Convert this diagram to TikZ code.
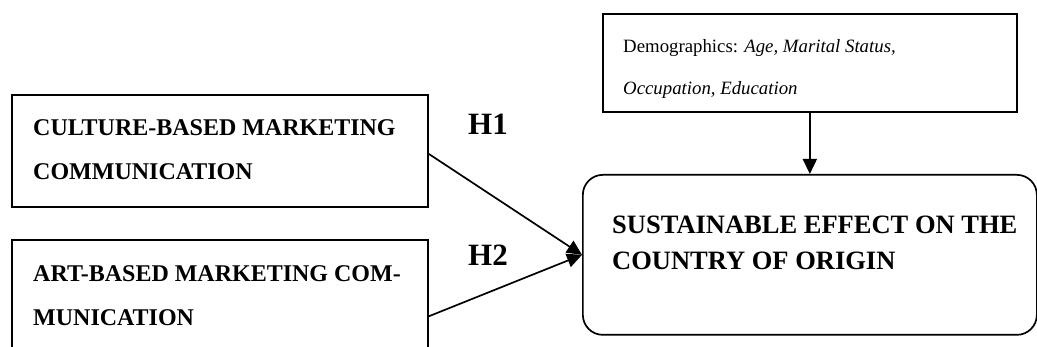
\documentclass[tikz,border=0pt]{standalone}
\usepackage{fontspec}
\setmainfont{Liberation Serif}
\usetikzlibrary{arrows.meta}
\begin{document}
\begin{tikzpicture}[x=1pt,y=-1pt,
  box/.style={draw, line width=1.7pt, anchor=north west, inner sep=0pt},
  rbox/.style={box, rounded corners=20pt},
  bigtxt/.style={anchor=north west, inner sep=0pt, align=left, font=\bfseries\fontsize{24}{44}\selectfont},
  demotxt/.style={anchor=north west, inner sep=0pt, align=left, font=\fontsize{18.8}{42}\selectfont},
  hyp/.style={font=\bfseries\fontsize{31}{36}\selectfont, inner sep=0pt},
  link/.style={line width=1.7pt, -{Triangle[length=15pt,width=14pt]}}
]
\useasboundingbox (0,0) rectangle (1037,347);
\node[box, minimum width=416pt, minimum height=112pt] (cb) at (11,94) {};
\node[box, minimum width=416pt, minimum height=113pt] (ab) at (11,239) {};
\node[box, minimum width=414pt, minimum height=98pt] (demo) at (602,13) {};
\node[rbox, minimum width=454pt, minimum height=160pt] (se) at (582,174) {};

\node[bigtxt] (cbt) at (33,119) {CULTURE-BASED MARKETING\\COMMUNICATION};
\node[bigtxt] (abt) at (33,265) {ART-BASED MARKETING COM-\\MUNICATION};
\node[bigtxt, font=\bfseries\fontsize{26.5}{36}\selectfont] (set) at (612,216) {SUSTAINABLE EFFECT ON THE\\COUNTRY OF ORIGIN};
\node[demotxt] (demot) at (623,39) {Demographics: \textit{Age, Marital Status,}\\\textit{Occupation, Education}};

\node[hyp] (h1) at (488,124) {H1};
\node[hyp] (h2) at (488,255) {H2};

\draw[link] ([yshift=-3pt]cb.east) -- (se.west);
\draw[link] ([yshift=-20pt]ab.east) -- (se.west);
\draw[link] (demo.south) -- (se.north);
\end{tikzpicture}
\end{document}
